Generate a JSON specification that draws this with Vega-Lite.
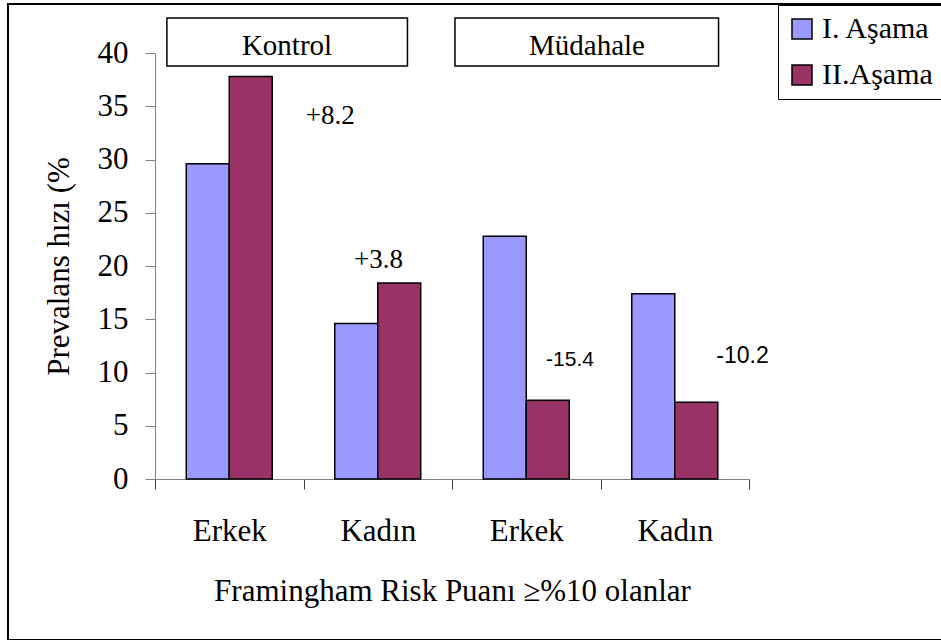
{
  "$schema": "https://vega.github.io/schema/vega-lite/v6.json",
  "width": 935,
  "height": 636,
  "autosize": {"type": "none"},
  "padding": {"left": 8, "top": 4, "right": 0, "bottom": 0},
  "background": "white",
  "config": {
    "view": {"stroke": "black", "strokeWidth": 2},
    "font": "Liberation Serif"
  },
  "datasets": {
    "bars": [
      {"cat": "K-Erkek", "phase": "I. Aşama", "value": 29.6},
      {"cat": "K-Erkek", "phase": "II.Aşama", "value": 37.8},
      {"cat": "K-Kadın", "phase": "I. Aşama", "value": 14.6},
      {"cat": "K-Kadın", "phase": "II.Aşama", "value": 18.4},
      {"cat": "M-Erkek", "phase": "I. Aşama", "value": 22.8},
      {"cat": "M-Erkek", "phase": "II.Aşama", "value": 7.4},
      {"cat": "M-Kadın", "phase": "I. Aşama", "value": 17.4},
      {"cat": "M-Kadın", "phase": "II.Aşama", "value": 7.2}
    ],
    "groups": [
      {"group": "Kontrol", "first": "K-Erkek", "last": "K-Kadın"},
      {"group": "Müdahale", "first": "M-Erkek", "last": "M-Kadın"}
    ],
    "notes": [
      {"cat": "K-Kadın", "label": "+8.2"},
      {"cat": "K-Kadın", "label": "+3.8"},
      {"cat": "M-Erkek", "label": "-15.4"},
      {"cat": "M-Kadın", "label": "-10.2"}
    ]
  },
  "layer": [
    {
      "layer": [
        {
          "data": {"name": "bars"},
          "mark": {"type": "bar", "stroke": "black", "strokeWidth": 1.5},
          "encoding": {
            "x": {
              "field": "cat",
              "type": "nominal",
              "sort": null,
              "scale": {"type": "band", "domain": ["K-Erkek", "K-Kadın", "M-Erkek", "M-Kadın"], "range": [147, 741], "paddingInner": 0, "paddingOuter": 0},
              "axis": {
                "orient": "bottom",
                "offset": -161,
                "title": "Framingham Risk Puanı ≥%10 olanlar",
                "titleFont": "Liberation Serif",
                "titleFontSize": 31,
                "titleFontWeight": "normal",
                "titleColor": "black",
                "titleY": 121,
                "titleBaseline": "alphabetic",
                "labelExpr": "slice(datum.label, 2)",
                "labelFont": "Liberation Serif",
                "labelFontSize": 31,
                "labelColor": "black",
                "labelAngle": 0,
                "labelBaseline": "alphabetic",
                "labelPadding": 51,
                "tickBand": "extent",
                "tickSize": 10,
                "tickColor": "#404040",
                "domainColor": "#808080",
                "grid": false
              }
            },
            "xOffset": {"field": "phase", "type": "nominal", "scale": {"paddingInner": 0, "paddingOuter": 0.727}},
            "y": {
              "field": "value",
              "type": "quantitative",
              "scale": {"domain": [0, 40], "range": [475, 49], "nice": false},
              "axis": {
                "orient": "left",
                "offset": -147,
                "values": [0, 5, 10, 15, 20, 25, 30, 35, 40],
                "title": "Prevalans hızı (%",
                "titleFont": "Liberation Serif",
                "titleFontSize": 31,
                "titleFontWeight": "normal",
                "titleColor": "black",
                "titleX": -96,
                "titleY": 262,
                "titleAngle": -90,
                "titleBaseline": "middle",
                "titleAlign": "center",
                "labelFont": "Liberation Serif",
                "labelFontSize": 31,
                "labelColor": "black",
                "labelPadding": 17,
                "labelFlush": false,
                "labelOverlap": false,
                "tickSize": 10,
                "tickColor": "#808080",
                "domainColor": "#808080",
                "grid": false
              }
            },
            "color": {
              "field": "phase",
              "type": "nominal",
              "scale": {"domain": ["I. Aşama", "II.Aşama"], "range": ["#9999FF", "#993366"]},
              "legend": {
                "orient": "none",
                "legendX": 770,
                "legendY": 1,
                "title": null,
                "strokeColor": "black",
                "fillColor": "white",
                "padding": 9,
                "labelFont": "Liberation Serif",
                "labelFontSize": 30,
                "labelColor": "black",
                "labelOffset": 5,
                "symbolType": "square",
                "symbolSize": 400,
                "symbolStrokeColor": "black",
                "symbolStrokeWidth": 1.5,
                "symbolOpacity": 1,
                "rowPadding": 16
              }
            }
          }
        },
        {
          "data": {"name": "groups"},
          "transform": [{"filter": "datum.group === 'Kontrol'"}],
          "mark": {"type": "rect", "fill": "white", "stroke": "black", "strokeWidth": 1.5},
          "encoding": {
            "x": {"field": "first", "type": "nominal", "bandPosition": 0.08},
            "x2": {"field": "last", "bandPosition": 0.7},
            "y": {"datum": 38.78, "type": "quantitative"},
            "y2": {"datum": 43.29}
          }
        },
        {
          "data": {"name": "groups"},
          "transform": [{"filter": "datum.group === 'Müdahale'"}],
          "mark": {"type": "rect", "fill": "white", "stroke": "black", "strokeWidth": 1.5},
          "encoding": {
            "x": {"field": "first", "type": "nominal", "bandPosition": 0.02},
            "x2": {"field": "last", "bandPosition": 0.795},
            "y": {"datum": 38.78, "type": "quantitative"},
            "y2": {"datum": 43.29}
          }
        },
        {
          "data": {"name": "notes"},
          "transform": [{"filter": "datum.label === '+8.2'"}],
          "mark": {"type": "text", "font": "Liberation Serif", "fontSize": 27, "align": "center", "baseline": "middle", "fill": "black"},
          "encoding": {
            "x": {"field": "cat", "type": "nominal", "bandPosition": 0.18},
            "y": {"datum": 34.08, "type": "quantitative"},
            "text": {"field": "label"}
          }
        },
        {
          "data": {"name": "notes"},
          "transform": [{"filter": "datum.label === '+3.8'"}],
          "mark": {"type": "text", "font": "Liberation Serif", "fontSize": 27, "align": "center", "baseline": "middle", "fill": "black"},
          "encoding": {
            "x": {"field": "cat", "type": "nominal", "bandPosition": 0.505},
            "y": {"datum": 20.56, "type": "quantitative"},
            "text": {"field": "label"}
          }
        },
        {
          "data": {"name": "notes"},
          "transform": [{"filter": "datum.label === '-15.4'"}],
          "mark": {"type": "text", "font": "Liberation Sans", "fontSize": 21, "align": "center", "baseline": "middle", "fill": "black"},
          "encoding": {
            "x": {"field": "cat", "type": "nominal", "bandPosition": 0.795},
            "y": {"datum": 11.17, "type": "quantitative"},
            "text": {"field": "label"}
          }
        },
        {
          "data": {"name": "notes"},
          "transform": [{"filter": "datum.label === '-10.2'"}],
          "mark": {"type": "text", "font": "Liberation Sans", "fontSize": 23, "align": "center", "baseline": "middle", "fill": "black"},
          "encoding": {
            "x": {"field": "cat", "type": "nominal", "bandPosition": 0.956},
            "y": {"datum": 11.55, "type": "quantitative"},
            "text": {"field": "label"}
          }
        }
      ]
    },
    {
      "data": {"name": "groups"},
      "mark": {"type": "text", "opacity": 0, "fontSize": 29},
      "encoding": {
        "x": {
          "field": "group",
          "type": "nominal",
          "sort": null,
          "scale": {"type": "band", "domain": ["Kontrol", "Müdahale"], "range": [129, 729], "paddingInner": 0, "paddingOuter": 0},
          "axis": {
            "orient": "top",
            "offset": -41,
            "zindex": 2,
            "title": null,
            "domain": false,
            "ticks": false,
            "tickSize": 0,
            "grid": false,
            "labelFont": "Liberation Serif",
            "labelFontSize": 29,
            "labelColor": "black",
            "labelAngle": 0,
            "labelPadding": 0,
            "labelBaseline": "middle",
            "labelOverlap": false
          }
        },
        "y": {"datum": 40.75, "type": "quantitative"},
        "text": {"field": "group"}
      }
    }
  ],
  "resolve": {"scale": {"x": "independent"}, "axis": {"x": "independent"}}
}
